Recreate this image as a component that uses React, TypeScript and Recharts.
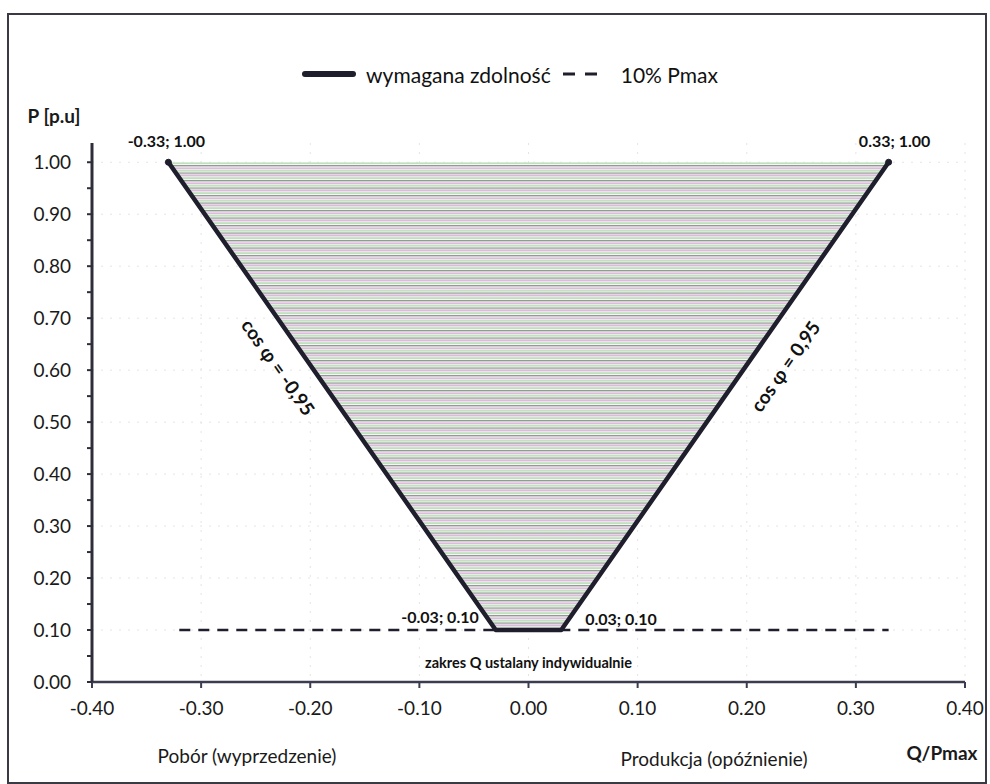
import React from 'react';
import {
  ComposedChart,
  Area,
  Line,
  XAxis,
  YAxis,
  CartesianGrid,
  Legend,
  LabelList,
  ReferenceDot,
  Label,
} from 'recharts';

// ---- data ----
const qValues = [-0.33, -0.03, 0.03, 0.33];
const pValues = [1.0, 0.1, 0.1, 1.0];
const pTop = 1.0;
const dashQ = [-0.32, 0.33];
const dashP = [0.1, 0.1];
const xTicks = [-0.4, -0.3, -0.2, -0.1, 0, 0.1, 0.2, 0.3, 0.4];
const yTicks = [0, 0.05, 0.1, 0.15, 0.2, 0.25, 0.3, 0.35, 0.4, 0.45, 0.5, 0.55, 0.6, 0.65, 0.7, 0.75, 0.8, 0.85, 0.9, 0.95, 1.0];
const yMajor = [0, 0.1, 0.2, 0.3, 0.4, 0.5, 0.6, 0.7, 0.8, 0.9, 1.0];
const seriesNames = ['wymagana zdolność', '10% Pmax'];
const cosLabels = [
  { q: -0.229, p: 0.606, text: 'cos φ = -0,95', angle: 55 },
  { q: 0.235, p: 0.608, text: 'cos φ = 0,95', angle: -55 },
];
const rangeNote = { q: 0, p: 0.038, text: 'zakres Q ustalany indywidualnie' };
const axisTexts = {
  y: 'P [p.u]',
  x: 'Q/Pmax',
  left: 'Pobór (wyprzedzenie)',
  right: 'Produkcja (opóźnienie)',
};

const envelopeData = qValues.map((q, i) => ({ q, p: pValues[i], range: [pValues[i], pTop] }));
const dashData = dashQ.map((q, i) => ({ q, d: dashP[i] }));

const FONT = 'Lato, "Liberation Sans", sans-serif';
const INK = '#1e1e2c';

const fmt = (v: number) => v.toFixed(2);

const PointLabel = (props: any) => {
  const { x, y, index } = props;
  const q = qValues[index];
  const p = pValues[index];
  const text = `${fmt(q)}; ${fmt(p)}`;
  let tx = x;
  let ty = y - 15;
  let anchor: 'start' | 'middle' | 'end' = 'middle';
  if (p > 0.5) {
    tx = q < 0 ? x - 2 : x + 6;
    ty = y - 15;
  } else if (q < 0) {
    tx = x - 17;
    ty = y - 7;
    anchor = 'end';
  } else {
    tx = x + 24;
    ty = y - 5;
    anchor = 'start';
  }
  return (
    <text x={tx} y={ty} textAnchor={anchor} fontFamily={FONT} fontWeight={700} fontSize={16} fill="#111">
      {text}
    </text>
  );
};

const EndDot = (props: any) => {
  const { cx, cy, index } = props;
  if (pValues[index] < 0.5) return <g key={`d${index}`} />;
  return <circle key={`d${index}`} cx={cx} cy={cy} r={3} fill={INK} stroke={INK} />;
};

const renderLegend = () => (
  <div
    style={{
      display: 'flex',
      justifyContent: 'center',
      alignItems: 'center',
      fontFamily: FONT,
      fontSize: 21,
      color: '#111',
      paddingLeft: 30,
      height: 24,
    }}
  >
    <svg width={54} height={10} style={{ marginRight: 10 }}>
      <line x1={3} y1={5} x2={51} y2={5} stroke={INK} strokeWidth={6} strokeLinecap="round" />
    </svg>
    <span>{seriesNames[0]}</span>
    <svg width={42} height={10} style={{ marginLeft: 10, marginRight: 18 }}>
      <line x1={2} y1={5} x2={40} y2={5} stroke={INK} strokeWidth={3} strokeDasharray="12 10" />
    </svg>
    <span>{seriesNames[1]}</span>
  </div>
);

export default function App() {
  return (
    <div style={{ position: 'absolute', left: 0, top: 0, width: 990, height: 784, background: '#fff' }}>
      <div
        style={{
          position: 'absolute',
          left: 7,
          top: 13,
          width: 976,
          height: 767,
          border: '2px solid #3a3a44',
        }}
      />
      <div style={{ position: 'absolute', left: 0, top: 0 }}>
        <ComposedChart
          width={990}
          height={784}
          data={envelopeData}
          margin={{ top: 119, right: 25, bottom: 72, left: 32 }}
          style={{ fontFamily: FONT }}
        >
          <defs>
            <pattern id="hatch" patternUnits="userSpaceOnUse" width={6} height={7.5}>
              <rect x={0} y={0} width={6} height={7.5} fill="#f7f7f5" />
              <rect x={0} y={0} width={6} height={1.3} fill="#8e998f" />
              <rect x={0} y={2.5} width={6} height={1.3} fill="#d8a8d8" />
              <rect x={0} y={5} width={6} height={1.3} fill="#a8d8a8" />
            </pattern>
          </defs>
          <CartesianGrid
            stroke="#e4e4e4"
            strokeDasharray="2 7"
            horizontalValues={yMajor}
            verticalValues={xTicks}
          />
          <XAxis
            type="number"
            dataKey="q"
            domain={[-0.4, 0.4]}
            ticks={xTicks}
            tickFormatter={fmt}
            allowDataOverflow
            height={30}
            tickSize={6}
            tickMargin={14}
            axisLine={{ stroke: '#3c3c50', strokeWidth: 2.5 }}
            tickLine={{ stroke: '#3c3c50', strokeWidth: 2 }}
            tick={{ fill: '#1a1a1a', fontSize: 19, fontFamily: FONT }}
          >
            <Label
              content={(props: any) => {
                const vb = props.viewBox || { x: 92, y: 682, width: 873, height: 30 };
                return (
                  <g fontFamily={FONT} fill="#1a1a1a">
                    <text x={vb.x + 155} y={vb.y + 81} textAnchor="middle" fontSize={19}>
                      {axisTexts.left}
                    </text>
                    <text x={vb.x + 622} y={vb.y + 84} textAnchor="middle" fontSize={19}>
                      {axisTexts.right}
                    </text>
                    <text x={vb.x + vb.width - 23} y={vb.y + 78} textAnchor="middle" fontSize={19} fontWeight={700}>
                      {axisTexts.x}
                    </text>
                  </g>
                );
              }}
            />
          </XAxis>
          <YAxis
            type="number"
            domain={[0, 1.037]}
            ticks={yTicks}
            tickFormatter={(v: number) => (Math.round(v * 100) % 10 === 0 ? fmt(v) : '')}
            allowDataOverflow
            width={60}
            tickSize={5}
            tickMargin={16}
            axisLine={{ stroke: '#2e2e3a', strokeWidth: 3 }}
            tickLine={{ stroke: '#2e2e3a', strokeWidth: 2 }}
            tick={{ fill: '#1a1a1a', fontSize: 19, fontFamily: FONT }}
          >
            <Label
              content={(props: any) => {
                const vb = props.viewBox || { x: 32, y: 143, width: 60, height: 539 };
                return (
                  <text x={vb.x + 22} y={vb.y - 20} textAnchor="middle" fontFamily={FONT} fontSize={19} fontWeight={700} fill="#1a1a1a">
                    {axisTexts.y}
                  </text>
                );
              }}
            />
          </YAxis>
          <Legend
            verticalAlign="top"
            content={renderLegend}
            wrapperStyle={{ position: 'absolute', top: 62, left: 0, width: 990 }}
          />
          <Area
            dataKey="range"
            type="linear"
            fill="url(#hatch)"
            fillOpacity={1}
            stroke="none"
            legendType="none"
            isAnimationActive={false}
            dot={false}
            activeDot={false}
          />
          <Line
            dataKey="p"
            name={seriesNames[0]}
            type="linear"
            stroke={INK}
            strokeWidth={4.5}
            strokeLinejoin="round"
            strokeLinecap="round"
            dot={EndDot}
            activeDot={false}
            isAnimationActive={false}
          >
            <LabelList dataKey="p" content={PointLabel} />
          </Line>
          <Line
            data={dashData}
            dataKey="d"
            name={seriesNames[1]}
            type="linear"
            stroke={INK}
            strokeWidth={2.5}
            strokeDasharray="11 8"
            dot={false}
            activeDot={false}
            isAnimationActive={false}
          />
          {cosLabels.map((c, i) => (
            <ReferenceDot
              key={i}
              x={c.q}
              y={c.p}
              r={0}
              fill="none"
              stroke="none"
              label={(props: any) => {
                const vb = props.viewBox || {};
                const cx = vb.x + (vb.width || 0) / 2;
                const cy = vb.y + (vb.height || 0) / 2;
                return (
                  <text
                    x={cx}
                    y={cy}
                    textAnchor="middle"
                    dominantBaseline="central"
                    transform={`rotate(${c.angle}, ${cx}, ${cy})`}
                    fontFamily={FONT}
                    fontSize={19}
                    fontWeight={700}
                    fill="#111"
                  >
                    {c.text}
                  </text>
                );
              }}
            />
          ))}
          <ReferenceDot
            x={rangeNote.q}
            y={rangeNote.p}
            r={0}
            fill="none"
            stroke="none"
            label={(props: any) => {
              const vb = props.viewBox || {};
              const cx = vb.x + (vb.width || 0) / 2;
              const cy = vb.y + (vb.height || 0) / 2;
              return (
                <text x={cx} y={cy} textAnchor="middle" dominantBaseline="central" fontFamily={FONT} fontSize={14.5} fontWeight={700} fill="#111">
                  {rangeNote.text}
                </text>
              );
            }}
          />
        </ComposedChart>
      </div>
    </div>
  );
}
